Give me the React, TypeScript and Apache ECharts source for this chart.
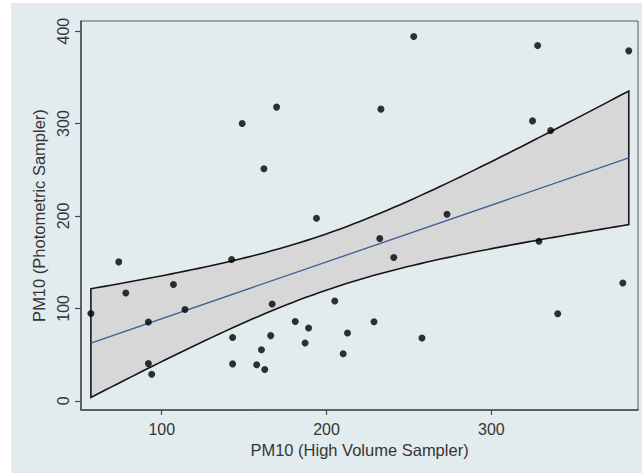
import React, { useEffect, useRef } from "react";
import * as echarts from "echarts";

// PM10 (High Volume Sampler) values
const hvSampler: number[] = [
  57.0, 73.9, 78.2, 91.9, 91.9, 93.9, 107.1, 114.1, 142.4, 143.0,
  143.0, 148.8, 157.6, 160.5, 162.0, 162.5, 166.1, 167.0, 169.7, 181.0,
  187.0, 189.1, 193.9, 205.0, 210.1, 212.7, 228.8, 232.3, 233.0, 240.8,
  252.9, 257.9, 273.1, 325.0, 328.1, 328.9, 336.0, 340.3, 379.8, 383.4,
];
// PM10 (Photometric Sampler) values
const photometric: number[] = [
  94.5, 150.3, 116.7, 85.3, 40.2, 28.7, 125.8, 98.7, 152.8, 68.4,
  39.9, 300.1, 39.0, 55.2, 251.0, 33.9, 70.5, 104.8, 317.8, 85.7,
  62.6, 78.8, 197.6, 108.0, 50.9, 73.4, 85.5, 175.6, 315.6, 155.0,
  394.2, 68.0, 201.9, 302.9, 384.5, 172.7, 292.5, 94.1, 127.5, 378.7,
];
const xTicks: number[] = [100, 200, 300];
const yTicks: number[] = [0, 100, 200, 300, 400];
const xTitle = "PM10 (High Volume Sampler)";
const yTitle = "PM10 (Photometric Sampler)";
const tCrit = 2.024; // t(0.975, n-2 = 38)

function regression() {
  const n = hvSampler.length;
  const mx = hvSampler.reduce((s, v) => s + v, 0) / n;
  const my = photometric.reduce((s, v) => s + v, 0) / n;
  let sxx = 0;
  let sxy = 0;
  for (let i = 0; i < n; i++) {
    sxx += (hvSampler[i] - mx) ** 2;
    sxy += (hvSampler[i] - mx) * (photometric[i] - my);
  }
  const b = sxy / sxx;
  const a = my - b * mx;
  let sse = 0;
  for (let i = 0; i < n; i++) {
    sse += (photometric[i] - a - b * hvSampler[i]) ** 2;
  }
  const s = Math.sqrt(sse / (n - 2));
  const fit = (x: number) => a + b * x;
  const half = (x: number) => tCrit * s * Math.sqrt(1 / n + (x - mx) ** 2 / sxx);
  return { fit, half };
}

export default function App() {
  const ref = useRef<HTMLDivElement>(null);
  useEffect(() => {
    if (!ref.current) return;
    const chart = echarts.init(ref.current, null, { renderer: "svg" });
    const { fit, half } = regression();
    const xMin = Math.min(...hvSampler);
    const xMax = Math.max(...hvSampler);
    const steps = 80;
    const xs: number[] = [];
    for (let i = 0; i <= steps; i++) xs.push(xMin + ((xMax - xMin) * i) / steps);
    const font = "Liberation Sans, Arial, sans-serif";
    const textColor = "#353535";

    chart.setOption({
      animation: false,
      backgroundColor: "#e2ecee",
      grid: {
        left: 70,
        top: 18,
        right: 4,
        bottom: 63,
        show: true,
        borderColor: "#5a5a5a",
        borderWidth: 1,
        backgroundColor: "transparent",
      },
      xAxis: {
        type: "value",
        min: 51,
        max: 389,
        name: xTitle,
        nameLocation: "middle",
        nameGap: 27,
        nameTextStyle: { fontSize: 16.5, color: textColor, fontFamily: font },
        axisLine: { show: true, onZero: false, lineStyle: { color: "#4a4a4a", width: 1.5 } },
        axisTick: { show: true, length: 5, customValues: xTicks, lineStyle: { color: "#4a4a4a", width: 1.2 } },
        axisLabel: { customValues: xTicks, fontSize: 16, color: textColor, fontFamily: font, margin: 11 },
        splitLine: { show: false },
      },
      yAxis: {
        type: "value",
        min: -10,
        max: 411,
        name: yTitle,
        nameLocation: "middle",
        nameGap: 33,
        nameTextStyle: { fontSize: 16.5, color: textColor, fontFamily: font },
        axisLine: { show: true, onZero: false, lineStyle: { color: "#4a4a4a", width: 1.5 } },
        axisTick: { show: true, length: 6, customValues: yTicks, lineStyle: { color: "#4a4a4a", width: 1.2 } },
        axisLabel: { customValues: yTicks, rotate: 90, fontSize: 16, color: textColor, fontFamily: font, margin: 10 },
        splitLine: { show: false },
      },
      series: [
        {
          type: "custom",
          data: [[xMin, 0]],
          z: 1,
          silent: true,
          renderItem: (_params: any, api: any) => {
            const upper = xs.map((x) => api.coord([x, fit(x) + half(x)]));
            const lower = xs
              .slice()
              .reverse()
              .map((x) => api.coord([x, fit(x) - half(x)]));
            return {
              type: "polygon",
              shape: { points: upper.concat(lower) },
              style: { fill: "#d7d7d7", stroke: "#151515", lineWidth: 1.6 },
            };
          },
        },
        {
          type: "line",
          z: 2,
          symbol: "none",
          data: [
            [xMin, fit(xMin)],
            [xMax, fit(xMax)],
          ],
          lineStyle: { color: "#3d5d96", width: 1.3 },
        },
        {
          type: "scatter",
          z: 3,
          symbol: "circle",
          symbolSize: 7,
          itemStyle: { color: "#000000" },
          data: hvSampler.map((x, i) => [x, photometric[i]]),
        },
      ],
    });
    return () => chart.dispose();
  }, []);

  return (
    <div style={{ position: "fixed", left: 0, top: 0, width: 642, height: 473, background: "#ffffff" }}>
      <div ref={ref} style={{ position: "absolute", left: 11, top: 3, width: 631, height: 470 }} />
    </div>
  );
}
